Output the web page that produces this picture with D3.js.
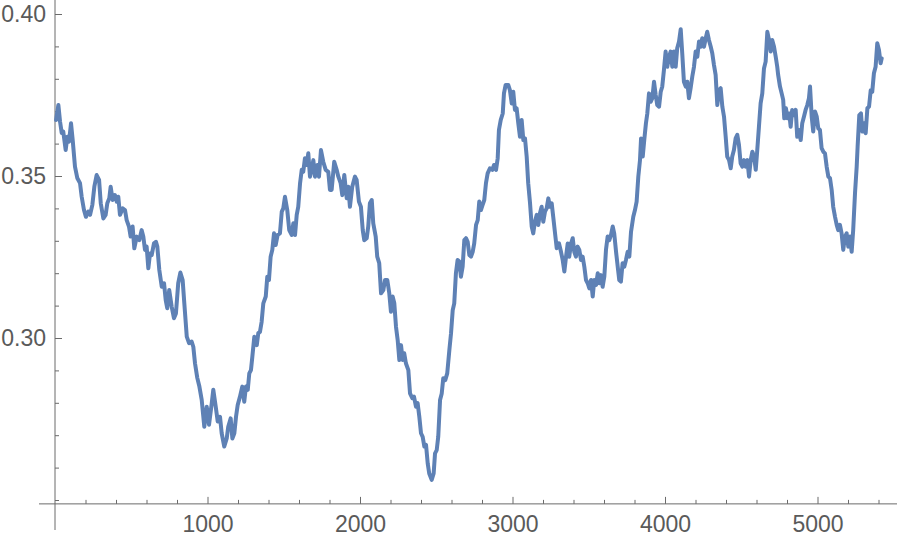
<!DOCTYPE html>
<html>
<head>
<meta charset="utf-8">
<script src="https://cdn.jsdelivr.net/npm/d3@7"></script>
<style>
  html, body { margin: 0; padding: 0; background: #fff; }
  svg { display: block; }
</style>
</head>
<body>
<svg id="chart" width="900" height="544"></svg>
<script>
// ---- data ----
const xs = [7,22,33,44,54,70,81,92,105,116,131,146,164,175,190,203,218,230,245,258,273,289,300,317,332,343,356,365,378,393,405,415,426,444,459,470,485,496,509,520,536,553,568,579,590,601,612,623,634,649,662,671,684,700,715,726,736,749,765,780,793,808,822,837,848,864,879,896,907,918,
933,946,962,979,995,1010,1028,1038,1054,1067,1082,1093,1110,1126,1136,1152,1163,1176,1187,1198,1213,1228,1241,1252,1264,1274,1285,1294,1307,1323,1333,1344,1355,1366,1382,1392,1403,1414,1425,1436,1447,1460,1475,1487,1497,1508,1523,1536,1552,1563,1574,1585,1595,1607,1618,1628,1639,1650,1661,1672,1683,1694,1705,1720,1731,1744,1759,1775,1792,1803,1814,1831,1847,1858,1873,1884,1897,
1913,1923,1934,1949,1967,1978,1993,2006,2018,2028,2044,2054,2065,2077,2087,2103,2113,2126,2138,2153,2164,2179,2192,2203,2214,2225,2236,2247,2258,2269,2280,2290,2301,2317,2328,2343,2354,2367,2378,2389,2400,2411,2422,2433,2444,2454,2470,2483,2492,2503,2513,2525,2536,2546,2559,2572,2586,2597,2608,2618,2629,2640,2651,2662,2673,2684,2695,2706,2717,2728,2739,2749,2761,2772,2782,2793,2804,2815,2826,2837,2852,2868,2879,2892,2903,2911,2923,2936,2944,2955,2972,2983,2995,
3005,3016,3027,3038,3049,3060,3071,3082,3093,3103,3115,3126,3136,3147,3159,3169,3180,3191,3202,3213,3224,3235,3246,3257,3267,3279,3290,3305,3318,3329,3340,3351,3362,3372,3384,3395,3405,3416,3427,3438,3449,3460,3471,3482,3493,3504,3515,3526,3536,3548,3559,3569,3580,3591,3602,3613,3624,3635,3646,3657,3667,3679,3690,3700,3711,3722,3733,3744,3755,3766,3777,3792,3803,3814,3825,3836,3843,3854,3864,3875,3884,3895,3906,3917,3928,3939,3949,3961,3972,3982,3993,
4004,4015,4026,4037,4048,4059,4070,4080,4092,4103,4113,4124,4136,4146,4157,4168,4179,4190,4201,4212,4223,4234,4244,4256,4267,4277,4288,4300,4310,4321,4332,4343,4354,4365,4376,4387,4398,4408,4420,4431,4441,4452,4463,4474,4485,4496,4507,4518,4529,4540,4551,4562,4573,4584,4595,4605,4616,4627,4638,4649,4660,4671,4682,4693,4703,4715,4726,4736,4742,4754,4765,4775,4782,4793,4804,4815,4824,4834,4846,4857,4867,4878,4890,4900,4911,4922,4933,4944,4951,4962,4972,4984,4995,
5005,5016,5027,5038,5049,5060,5071,5082,5093,5103,5115,5126,5136,5147,5158,5169,5180,5191,5202,5213,5224,5234,5246,5257,5263,5274,5285,5294,5305,5316,5327,5338,5349,5359,5370,5381,5392,5403,5414,5421];

const ys = [0.3673,0.3719,0.3668,0.3633,0.3637,0.3580,0.3621,0.3606,0.3663,0.3611,0.3529,0.3494,0.3478,0.3436,0.3395,0.3374,0.3390,0.3380,0.3411,0.3467,0.3503,0.3488,0.3416,0.3369,0.3380,0.3416,0.3431,0.3467,0.3426,0.3441,0.3421,0.3436,0.3380,0.3400,0.3395,0.3364,0.3344,0.3313,0.3344,0.3277,0.3313,0.3302,0.3333,0.3313,0.3272,0.3282,0.3215,0.3261,0.3256,0.3292,0.3297,0.3282,0.3210,0.3158,0.3169,0.3117,0.3092,0.3148,0.3097,0.3061,0.3076,0.3169,0.3202,0.3179,0.3107,0.3004,0.2984,0.2989,0.2973,0.2922,
0.2877,0.2852,0.2809,0.2726,0.2788,0.2732,0.2799,0.2840,0.2788,0.2742,0.2757,0.2706,0.2665,0.2690,0.2726,0.2752,0.2690,0.2706,0.2757,0.2793,0.2819,0.2850,0.2803,0.2850,0.2840,0.2891,0.2901,0.2942,0.3004,0.2978,0.3015,0.3019,0.3050,0.3107,0.3128,0.3189,0.3179,0.3251,0.3272,0.3323,0.3287,0.3318,0.3323,0.3390,0.3400,0.3436,0.3395,0.3333,0.3318,0.3354,0.3318,0.3380,0.3405,0.3478,0.3519,0.3513,0.3555,0.3534,0.3570,0.3498,0.3519,0.3549,0.3498,0.3534,0.3498,0.3580,0.3544,0.3519,0.3513,0.3457,0.3457,0.3544,0.3519,0.3498,0.3478,0.3441,0.3503,
0.3431,0.3467,0.3405,0.3467,0.3498,0.3488,0.3421,0.3405,0.3333,0.3302,0.3308,0.3344,0.3416,0.3426,0.3354,0.3313,0.3251,0.3231,0.3138,0.3148,0.3179,0.3179,0.3138,0.3081,0.3128,0.3107,0.3035,0.2994,0.2932,0.2978,0.2932,0.2953,0.2922,0.2901,0.2829,0.2814,0.2819,0.2788,0.2799,0.2757,0.2706,0.2695,0.2665,0.2670,0.2613,0.2582,0.2562,0.2582,0.2644,0.2654,0.2695,0.2809,0.2829,0.2876,0.2870,0.2891,0.2963,0.3015,0.3086,0.3107,0.3200,0.3241,0.3236,0.3189,0.3220,0.3302,0.3308,0.3297,0.3256,0.3251,0.3266,0.3292,0.3349,0.3364,0.3421,0.3395,0.3411,0.3426,0.3478,0.3508,0.3524,0.3519,0.3534,0.3519,0.3555,0.3642,0.3673,0.3693,0.3755,0.3781,0.3781,0.3765,0.3724,
0.3760,0.3704,0.3709,0.3663,0.3621,0.3673,0.3611,0.3616,0.3560,0.3478,0.3416,0.3344,0.3323,0.3359,0.3380,0.3349,0.3385,0.3405,0.3359,0.3390,0.3400,0.3431,0.3405,0.3416,0.3374,0.3323,0.3277,0.3292,0.3266,0.3241,0.3205,0.3251,0.3292,0.3251,0.3292,0.3308,0.3266,0.3251,0.3282,0.3272,0.3241,0.3251,0.3220,0.3179,0.3169,0.3153,0.3179,0.3128,0.3179,0.3164,0.3200,0.3169,0.3194,0.3158,0.3189,0.3272,0.3313,0.3302,0.3318,0.3344,0.3323,0.3266,0.3220,0.3179,0.3174,0.3231,0.3220,0.3241,0.3266,0.3251,0.3327,0.3374,0.3395,0.3421,0.3498,0.3549,0.3616,0.3560,0.3611,0.3663,0.3693,0.3755,0.3729,0.3740,0.3791,0.3750,0.3719,0.3714,0.3760,0.3776,0.3827,
0.3884,0.3837,0.3868,0.3884,0.3837,0.3884,0.3837,0.3894,0.3915,0.3953,0.3879,0.3791,0.3776,0.3791,0.3740,0.3771,0.3807,0.3837,0.3884,0.3868,0.3915,0.3899,0.3925,0.3899,0.3925,0.3945,0.3920,0.3899,0.3879,0.3843,0.3812,0.3719,0.3765,0.3771,0.3714,0.3683,0.3621,0.3560,0.3549,0.3524,0.3560,0.3580,0.3616,0.3627,0.3596,0.3539,0.3529,0.3549,0.3529,0.3549,0.3498,0.3549,0.3575,0.3560,0.3519,0.3580,0.3652,0.3724,0.3755,0.3832,0.3853,0.3945,0.3920,0.3884,0.3920,0.3899,0.3868,0.3837,0.3812,0.3776,0.3755,0.3735,0.3678,0.3709,0.3678,0.3693,0.3652,0.3704,0.3688,0.3704,0.3621,0.3642,0.3611,0.3663,0.3683,0.3704,0.3719,0.3740,0.3776,0.3683,0.3637,0.3699,0.3683,
0.3647,0.3642,0.3586,0.3575,0.3570,0.3529,0.3498,0.3493,0.3457,0.3405,0.3374,0.3349,0.3333,0.3349,0.3323,0.3272,0.3313,0.3323,0.3282,0.3313,0.3266,0.3333,0.3447,0.3529,0.3590,0.3688,0.3693,0.3637,0.3663,0.3632,0.3709,0.3714,0.3765,0.3760,0.3817,0.3837,0.3910,0.3889,0.3848,0.3863];

const xMajorTicks = [1000, 2000, 3000, 4000, 5000];
const xMinorTicks = [200,400,600,800,1200,1400,1600,1800,2200,2400,2600,2800,3200,3400,3600,3800,4200,4400,4600,4800,5200,5400];
const yMajorTicks = [0.30, 0.35, 0.40];
const yMinorTicks = [0.25,0.26,0.27,0.28,0.29,0.31,0.32,0.33,0.34,0.36,0.37,0.38,0.39];
const yAxisCross = 0.2488;

// ---- layout ----
const svg = d3.select("#chart");
const x = d3.scaleLinear().domain([0, 5000]).range([55, 817.5]);
const y = d3.scaleLinear().domain([0.25, 0.40]).range([500, 14]);

const axisColor = "#6b6b6b";
const textColor = "#5a5a5a";
const font = "'Liberation Sans', Arial, Helvetica, sans-serif";
const x0 = x(0), yAxisY = y(yAxisCross);

// Axis lines (extend past origin like the reference)
svg.append("line").attr("x1", 39).attr("x2", 897).attr("y1", yAxisY).attr("y2", yAxisY)
  .attr("stroke", axisColor).attr("stroke-width", 1);
svg.append("line").attr("x1", x0).attr("x2", x0).attr("y1", 0).attr("y2", 530)
  .attr("stroke", axisColor).attr("stroke-width", 1);

function styleAxis(g) {
  g.select(".domain").remove();
  g.selectAll(".tick line").attr("stroke", axisColor);
  g.selectAll(".tick text").attr("fill", textColor).style("font-family", font).style("font-size", "23px");
}

// X axis major
svg.append("g").attr("transform", `translate(0,${yAxisY})`)
  .call(d3.axisBottom(x).tickValues(xMajorTicks).tickSizeInner(-7).tickSizeOuter(0).tickPadding(12).tickFormat(d3.format("d")))
  .call(styleAxis);
// X axis minor
svg.append("g").attr("transform", `translate(0,${yAxisY})`)
  .call(d3.axisBottom(x).tickValues(xMinorTicks).tickSizeInner(-4).tickSizeOuter(0).tickFormat(""))
  .call(styleAxis);

// Y axis major
svg.append("g").attr("transform", `translate(${x0},0)`)
  .call(d3.axisLeft(y).tickValues(yMajorTicks).tickSizeInner(-7).tickSizeOuter(0).tickPadding(9).tickFormat(d3.format(".2f")))
  .call(styleAxis);
// Y axis minor
svg.append("g").attr("transform", `translate(${x0},0)`)
  .call(d3.axisLeft(y).tickValues(yMinorTicks).tickSizeInner(-4).tickSizeOuter(0).tickFormat(""))
  .call(styleAxis);

// Line
const pts = xs.map((v, i) => [v, ys[i]]);
svg.append("path")
  .datum(pts)
  .attr("fill", "none")
  .attr("stroke", "#5e81b5")
  .attr("stroke-width", 4)
  .attr("stroke-linejoin", "round")
  .attr("stroke-linecap", "round")
  .attr("d", d3.line().x(d => x(d[0])).y(d => y(d[1])));
</script>
</body>
</html>
